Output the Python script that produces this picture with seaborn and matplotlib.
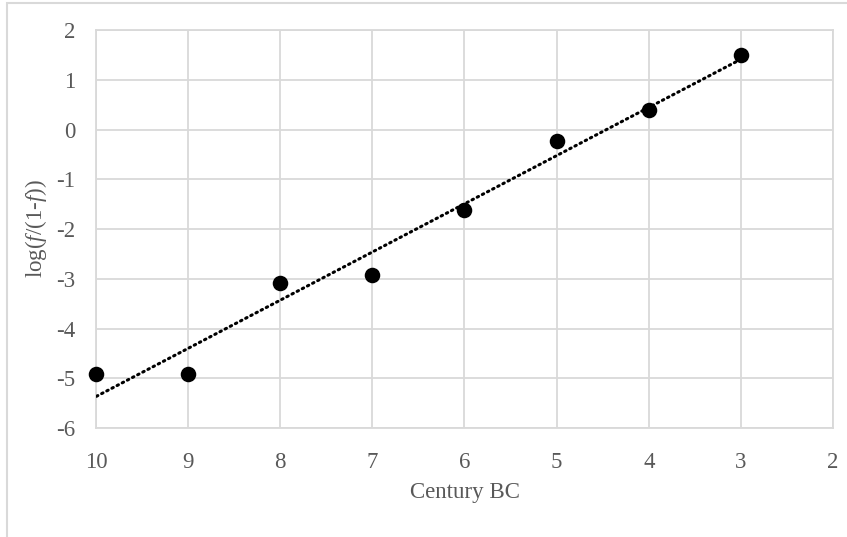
import numpy as np
import pandas as pd
import seaborn as sns
import matplotlib.pyplot as plt
from matplotlib.patches import Rectangle

century = [10, 9, 8, 7, 6, 5, 4, 3]
log_ratio = [-4.92, -4.92, -3.09, -2.93, -1.62, -0.23, 0.39, 1.50]

x_ticks = [10, 9, 8, 7, 6, 5, 4, 3, 2]
y_ticks = [-6, -5, -4, -3, -2, -1, 0, 1, 2]


def main():
    sns.set_theme(style='white')
    plt.rcParams['font.family'] = ['Liberation Serif', 'DejaVu Serif']
    plt.rcParams['mathtext.fontset'] = 'custom'
    plt.rcParams['mathtext.rm'] = 'Liberation Serif'
    plt.rcParams['mathtext.it'] = 'Liberation Serif:italic'
    plt.rcParams['axes.unicode_minus'] = False

    grey = '#d9d9d9'
    text_grey = '#595959'
    data = pd.DataFrame({'Century': century, 'LogRatio': log_ratio})

    fig = plt.figure(figsize=(8.47, 5.37), dpi=100)
    ax = fig.add_axes([0.1133, 0.203, 0.8702, 0.741])

    sns.regplot(x='Century', y='LogRatio', data=data, ax=ax, ci=None,
                truncate=True,
                scatter_kws=dict(s=125, color='black', edgecolor='black',
                                 linewidths=0, alpha=1, zorder=4,
                                 clip_on=False),
                line_kws=dict(color='black', lw=2.2, ls=(0, (0.5, 1.4)),
                              dash_capstyle='round', zorder=3))

    ax.set_xlim(10, 2)
    ax.set_ylim(-6, 2)
    ax.set_xticks(x_ticks)
    ax.set_yticks(y_ticks)
    ax.grid(True, color=grey, lw=1.3)
    ax.set_axisbelow(True)
    for s in ax.spines.values():
        s.set_visible(True)
        s.set_color(grey)
        s.set_linewidth(1.3)
    ax.tick_params(axis='both', length=0, labelsize=16.5, colors=text_grey)
    ax.tick_params(axis='x', pad=17)
    ax.tick_params(axis='y', pad=15)

    ax.set_xlabel('Century BC', fontsize=16.5, color=text_grey, labelpad=7)
    ax.set_ylabel(r'log($f$/(1-$f$))', fontsize=16.5, color=text_grey, labelpad=5)

    # chart area border
    fig.patches.append(Rectangle((7 / 847, -0.1), 1.2, 1 - 3 / 537 + 0.1,
                                 transform=fig.transFigure, fill=False,
                                 edgecolor=grey, lw=1.5))

    plt.savefig('out.png', dpi=100)


if __name__ == '__main__':
    main()
